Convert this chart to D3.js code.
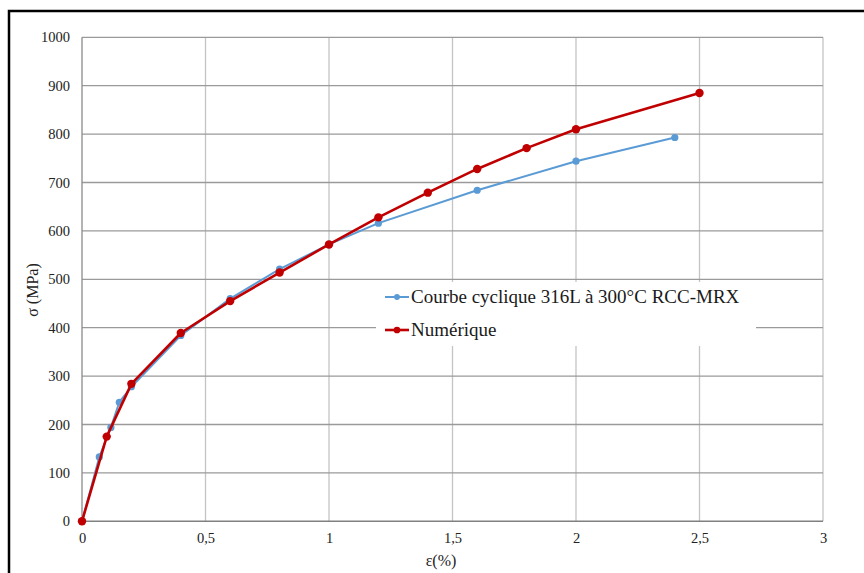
<!DOCTYPE html>
<html><head><meta charset="utf-8">
<script src="https://cdn.jsdelivr.net/npm/d3@7"></script>
<style>body{margin:0;background:#fff}svg{display:block}svg text{font-family:'Liberation Serif','Times New Roman',serif}</style>
</head><body>
<svg id="c" width="864" height="573"></svg>
<script>
// Data
const cycEps = [0, 0.07, 0.117, 0.151, 0.2, 0.4, 0.6, 0.8, 1.0, 1.2, 1.6, 2.0, 2.4];
const cycSig = [0, 133, 194, 246, 278, 384, 460, 521, 572, 616, 684, 744, 793];
const numEps = [0, 0.1, 0.2, 0.4, 0.6, 0.8, 1.0, 1.2, 1.4, 1.6, 1.8, 2.0, 2.5];
const numSig = [0, 175, 284, 389, 455, 514, 572, 628, 679, 728, 771, 810, 885];
const xTicks = [0, 0.5, 1, 1.5, 2, 2.5, 3];
const yTicks = [0, 100, 200, 300, 400, 500, 600, 700, 800, 900, 1000];
const seriesNames = ["Courbe cyclique 316L à 300°C RCC-MRX", "Numérique"];
const seriesColors = ["#5B9BD5", "#C00000"];

const svg = d3.select("#c");
const font = "'Liberation Serif','Times New Roman',serif";
// outer frame
svg.append("rect").attr("x", 9).attr("y", 11).attr("width", 900).attr("height", 620)
  .attr("fill", "none").attr("stroke", "#000").attr("stroke-width", 2.5);

const x = d3.scaleLinear().domain([0, 3]).range([82, 823]);
const y = d3.scaleLinear().domain([0, 1000]).range([521.3, 37.3]);

const g = svg.append("g");
// vertical grid
g.selectAll("line.vg").data(xTicks.slice(1)).join("line")
  .attr("x1", d => x(d)).attr("x2", d => x(d)).attr("y1", y(1000)).attr("y2", y(0))
  .attr("stroke", "#c4c4c4").attr("stroke-width", 1.3);
// horizontal grid
g.selectAll("line.hg").data(yTicks.slice(1)).join("line")
  .attr("x1", x(0)).attr("x2", x(3)).attr("y1", d => y(d)).attr("y2", d => y(d))
  .attr("stroke", "#9a9a9a").attr("stroke-width", 1.3);
// axes lines
g.append("line").attr("x1", x(0)).attr("x2", x(0)).attr("y1", y(1000)).attr("y2", y(0))
  .attr("stroke", "#8a8a8a").attr("stroke-width", 1.3);
g.append("line").attr("x1", x(0)).attr("x2", x(3)).attr("y1", y(0)).attr("y2", y(0))
  .attr("stroke", "#808080").attr("stroke-width", 1.5);

// tick labels via axis generators
const yAx = svg.append("g").attr("transform", `translate(${x(0)},0)`)
  .call(d3.axisLeft(y).tickValues(yTicks).tickSize(0).tickPadding(12).tickFormat(d3.format("d")));
yAx.attr("font-family", null);
yAx.select(".domain").remove();
yAx.selectAll("text").style("font-family", font).attr("font-size", 14.5).attr("fill", "#222");
const xAx = svg.append("g").attr("transform", `translate(0,${y(0)})`)
  .call(d3.axisBottom(x).tickValues(xTicks).tickSize(0).tickPadding(11)
    .tickFormat(d => String(d).replace(".", ",")));
xAx.attr("font-family", null);
xAx.select(".domain").remove();
xAx.selectAll("text").style("font-family", font).attr("font-size", 14.5).attr("fill", "#222");

// axis titles
svg.append("text").attr("x", 441).attr("y", 566).attr("text-anchor", "middle")
  .attr("font-size", 16).attr("fill", "#222").text("ε(%)");
svg.append("text").attr("transform", "translate(38,290) rotate(-90)").attr("text-anchor", "middle")
  .attr("font-size", 16).attr("fill", "#222").text("σ (MPa)");

// legend background (covers gridlines)
svg.append("rect").attr("x", 376).attr("y", 282).attr("width", 380).attr("height", 64).attr("fill", "#fff");

// series
const series = [
  {eps: cycEps, sig: cycSig, w: 2, r: 3.6},
  {eps: numEps, sig: numSig, w: 2.6, r: 4.2}
];
const line = d3.line().x(d => x(d[0])).y(d => y(d[1]));
series.forEach((s, i) => {
  const pts = s.eps.map((e, k) => [e, s.sig[k]]);
  svg.append("path").datum(pts).attr("d", line).attr("fill", "none")
    .attr("stroke", seriesColors[i]).attr("stroke-width", s.w).attr("stroke-linejoin", "round");
  svg.selectAll("circle.s" + i).data(pts).join("circle").attr("class", "s" + i)
    .attr("cx", d => x(d[0])).attr("cy", d => y(d[1])).attr("r", s.r).attr("fill", seriesColors[i]);
});

// legend
const legY = [297, 330];
seriesNames.forEach((n, i) => {
  svg.append("line").attr("x1", 385).attr("x2", 409).attr("y1", legY[i]).attr("y2", legY[i])
    .attr("stroke", seriesColors[i]).attr("stroke-width", series[i].w);
  svg.append("circle").attr("cx", 397).attr("cy", legY[i]).attr("r", series[i].r * 0.8).attr("fill", seriesColors[i]);
  svg.append("text").attr("x", 411).attr("y", legY[i] + 6)
    .attr("font-size", 19).attr("fill", "#1a1a1a").text(n);
});
</script>
</body></html>
